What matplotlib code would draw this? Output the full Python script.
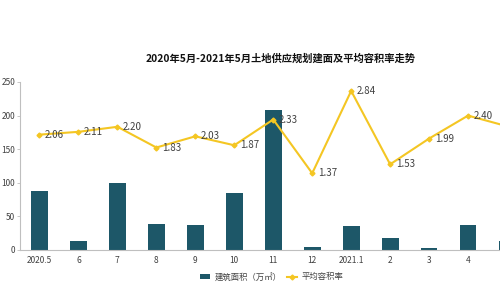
import matplotlib
matplotlib.use("Agg")
import matplotlib.pyplot as plt

plt.rcParams['font.family'] = ['Noto Sans CJK SC', 'DejaVu Sans']

months = ["2020.5", "6", "7", "8", "9", "10", "11", "12", "2021.1", "2", "3", "4", "5"]
area = [88, 13, 100, 39, 37, 85, 209, 4.5, 36, 17.5, 3, 37, 13.5]
ratio = [2.06, 2.11, 2.20, 1.83, 2.03, 1.87, 2.33, 1.37, 2.84, 1.53, 1.99, 2.40, 2.21]

bar_color = "#1d5768"
line_color = "#f4c623"
axis_gray = "#bfbfbf"
text_gray = "#404040"

fig = plt.figure(figsize=(5, 3), dpi=100)
# axes run past the right edge, the last month is cut off like in the source
ax = fig.add_axes([0.04, 0.1667, 1.013, 0.56])

x = list(range(len(months)))
bars = ax.bar(x, area, width=0.43, color=bar_color, zorder=2)
ax.set_xlim(-0.5, 12.5)
ax.set_ylim(0, 250)
ax.set_yticks([0, 50, 100, 150, 200, 250])
ax.set_xticks(x)
ax.set_xticklabels(months)
ax.tick_params(axis="both", labelsize=6, colors=text_gray, length=2.5, width=0.6)
ax.tick_params(axis="x", length=0, pad=4)
ax.tick_params(axis="y", color=axis_gray, pad=1)
for s in ["top", "right"]:
    ax.spines[s].set_visible(False)
for s in ["left", "bottom"]:
    ax.spines[s].set_color(axis_gray)
    ax.spines[s].set_linewidth(0.8)

ax2 = ax.twinx()
ax2.set_ylim(0, 3)
ax2.axis("off")
line, = ax2.plot(x, ratio, color=line_color, lw=1.5, marker="D", ms=2.5,
                 zorder=3, clip_on=False)
for xi, v in zip(x, ratio):
    ax2.annotate(f"{v:.2f}", (xi, v), xytext=(4, 0), textcoords="offset points",
                 ha="left", va="center", fontsize=7, color=text_gray)

fig.text(0.562, 0.803, "2020年5月-2021年5月土地供应规划建面及平均容积率走势",
         ha="center", va="center", fontsize=7.4, fontweight="bold", color="#111111")

fig.legend([bars, line], ["建筑面积（万㎡）", "平均容积率"], loc="center",
           bbox_to_anchor=(0.543, 0.077), ncol=2, frameon=False, fontsize=6,
           handlelength=1.3, handleheight=0.6, handletextpad=0.5,
           columnspacing=0.6, labelcolor=text_gray)

fig.savefig("out.png", dpi=100)
